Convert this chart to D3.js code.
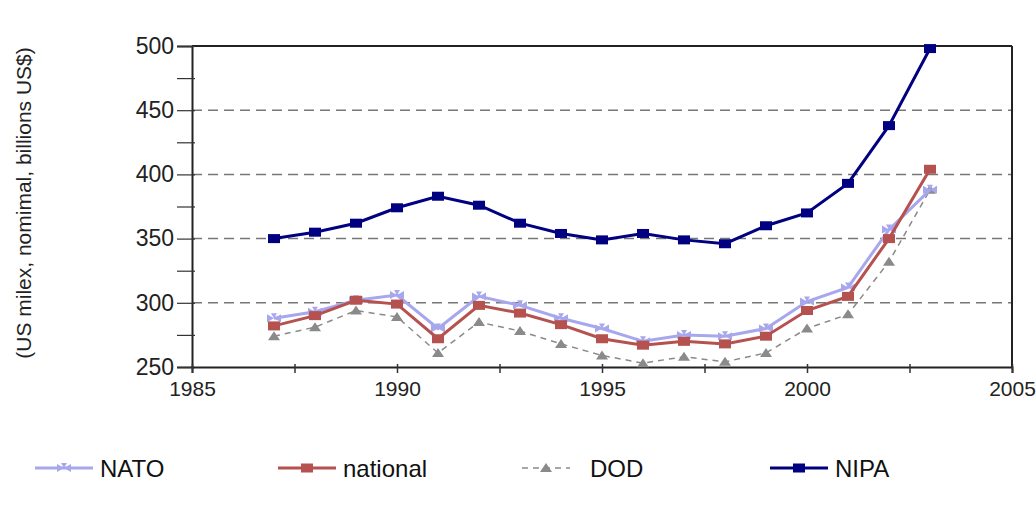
<!DOCTYPE html>
<html><head><meta charset="utf-8">
<script src="https://cdn.jsdelivr.net/npm/d3@7"></script>
<style>body{margin:0;background:#fff;} text{font-family:"Liberation Sans",Arial,sans-serif;}</style>
</head><body><svg id="c" width="1036" height="508"></svg>
<script>
const years = [1987,1988,1989,1990,1991,1992,1993,1994,1995,1996,1997,1998,1999,2000,2001,2002,2003];
const nato     = [288,293,302,306,280,305,298,288,280,270,275,274,280,301,312,357,388];
const national = [282,290,302,299,272,298,292,283,272,267,270,268,274,294,305,350,404];
const dod      = [274,281,294,289,261,285,278,268,259,253,258,254,261,280,291,332,388];
const nipa     = [350,355,362,374,383,376,362,354,349,354,349,346,360,370,393,438,498];
const yTicks = [250,300,350,400,450,500];
const xTicks = [1985,1990,1995,2000,2005];
const seriesNames = ["NATO","national","DOD","NIPA"];

const svg = d3.select("#c");
const L=192,R=1012,T=46,B=367;
const x = d3.scaleLinear().domain([1985,2005]).range([L,R]);
const y = d3.scaleLinear().domain([250,500]).range([B,T]);

svg.append("g").selectAll("line").data(yTicks.filter(v=>v>250&&v<500)).join("line")
  .attr("x1",L).attr("x2",R).attr("y1",d=>y(d)).attr("y2",d=>y(d))
  .attr("stroke","#777").attr("stroke-width",1.5).attr("stroke-dasharray","10,6");

svg.append("line").attr("x1",L).attr("x2",R).attr("y1",T).attr("y2",T).attr("stroke","#222").attr("stroke-width",2);
svg.append("line").attr("x1",R).attr("x2",R).attr("y1",T).attr("y2",B).attr("stroke","#222").attr("stroke-width",2);

const yAxis = d3.axisLeft(y).tickValues(d3.range(250,501,25)).tickSize(15).tickPadding(18)
  .tickFormat(d=>d%50===0?d:"");
const gy = svg.append("g").attr("transform",`translate(${L},0)`).call(yAxis);
gy.select(".domain").attr("stroke","#222").attr("stroke-width",2);
gy.selectAll(".tick line").attr("stroke","#333").attr("stroke-width",1.2).attr("x2",-15).attr("x1",3);
gy.selectAll("text").attr("font-size",23).attr("fill","#222").attr("dx",15);

const xAxis = d3.axisBottom(x).tickValues(d3.range(1985,2005.1,2.5)).tickSize(6).tickPadding(8)
  .tickFormat(d=>xTicks.includes(d)?d:"");
const gx = svg.append("g").attr("transform",`translate(0,${B})`).call(xAxis);
gx.select(".domain").attr("stroke","#222").attr("stroke-width",2);
gx.selectAll(".tick line").attr("stroke","#333").attr("stroke-width",1.5).attr("y1",-3);
gx.selectAll("text").attr("font-size",21).attr("fill","#222");

svg.append("text").attr("transform","translate(31,203) rotate(-90)").attr("text-anchor","middle")
  .attr("font-size",21).attr("fill","#222").text("(US milex, nomimal, billions US$)");

const line = d3.line().x((d,i)=>x(years[i])).y(d=>y(d));
const styles = {
  NATO:{data:nato,color:"#a7a7ee",w:3,dash:null,marker:"star"},
  national:{data:national,color:"#b5514f",w:3,dash:null,marker:"square"},
  DOD:{data:dod,color:"#8a8a8a",w:1.5,dash:"6,5",marker:"tri"},
  NIPA:{data:nipa,color:"#000080",w:3,dash:null,marker:"square"}
};
function marker(g,type,color){
  if(type==="square") g.append("rect").attr("x",-6).attr("y",-4.5).attr("width",12).attr("height",9).attr("fill",color);
  else if(type==="tri") g.append("path").attr("d","M-6,4 L0,-5 L6,4 Z").attr("fill",color);
  else g.append("path").attr("d","M-7,-4 L0,0 L-7,4 Z M7,-4 L0,0 L7,4 Z M-3,-5 L3,-5 L0,0 Z").attr("fill",color);
}
["DOD","NATO","national","NIPA"].forEach(n=>{
  const s=styles[n];
  svg.append("path").datum(s.data).attr("d",line).attr("fill","none").attr("stroke",s.color)
    .attr("stroke-width",s.w).attr("stroke-dasharray",s.dash);
  svg.append("g").selectAll("g").data(s.data).join("g")
    .attr("transform",(d,i)=>`translate(${x(years[i])},${y(d)})`).each(function(){marker(d3.select(this),s.marker,s.color);});
});

const legX = [35,278,522,770];
const legW = [58,58,48,58];
seriesNames.forEach((n,i)=>{
  const s=styles[n], g=svg.append("g").attr("transform",`translate(${legX[i]},468)`);
  g.append("line").attr("x1",0).attr("x2",legW[i]).attr("stroke",s.color).attr("stroke-width",s.w).attr("stroke-dasharray",s.dash);
  const m=g.append("g").attr("transform",`translate(${legW[i]/2},0)`); marker(m,s.marker,s.color);
  g.append("text").attr("x",legW[i]+(i===2?20:7)).attr("y",9).attr("font-size",24).attr("fill","#111").text(n);
});
</script></body></html>
